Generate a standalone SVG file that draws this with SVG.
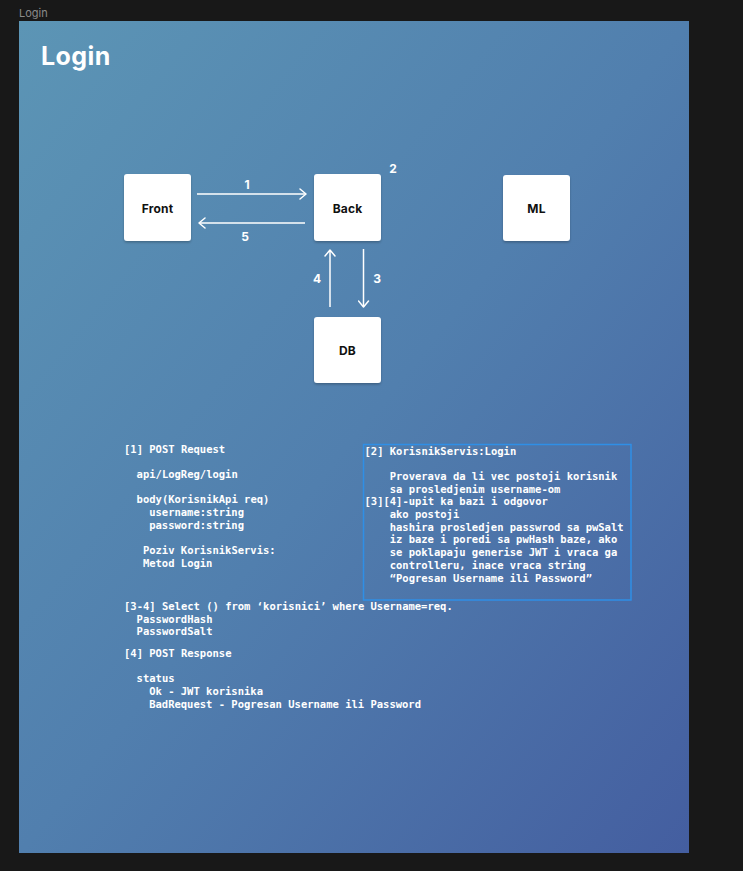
<svg xmlns="http://www.w3.org/2000/svg" width="743" height="871" viewBox="0 0 743 871">
  <defs>
    <linearGradient id="bg" x1="0" y1="0" x2="1" y2="1">
      <stop offset="0" stop-color="#5c95b5"/>
      <stop offset="0.5" stop-color="#517fae"/>
      <stop offset="1" stop-color="#445ea0"/>
    </linearGradient>
    <filter id="sh" x="-20%" y="-20%" width="140%" height="150%">
      <feDropShadow dx="0" dy="1.5" stdDeviation="1.2" flood-color="#000" flood-opacity="0.25"/>
    </filter>
    <marker id="ah" viewBox="0 0 10 12" refX="9" refY="6" markerWidth="10" markerHeight="12" markerUnits="userSpaceOnUse" orient="auto">
      <path d="M3,1 L9,6 L3,11" fill="none" stroke="#fff" stroke-width="1.5" stroke-linecap="round" stroke-linejoin="round"/>
    </marker>
    <style>
      .node rect { fill: #ffffff; filter: url(#sh); }
      .node text { font-family: Inter, "Noto Sans", sans-serif; font-weight: 700; font-size: 12px; letter-spacing: 0.2px; fill: #111; text-anchor: middle; }
      .conn line { stroke: #ffffff; stroke-width: 1.5; marker-end: url(#ah); }
      .lbl { font-family: Inter, "Noto Sans", sans-serif; font-weight: 700; font-size: 12px; fill: #fff; text-anchor: middle; }
      .mono { font-family: "DejaVu Sans Mono", "Liberation Mono", monospace; font-weight: 700; font-size: 10.5px; fill: #fff; }
    </style>
  </defs>
  <rect x="0" y="0" width="743" height="871" fill="#181818"/>
  <text x="19" y="17" font-family="Inter, 'Noto Sans', sans-serif" font-size="11" fill="#8a8a8a">Login</text>
  <rect x="19" y="21" width="670" height="832" fill="url(#bg)"/>
  <text x="41" y="65" font-family="Inter, 'Noto Sans', sans-serif" font-weight="700" font-size="25" letter-spacing="0.4" fill="#fff">Login</text>

  <g id="node-front" class="node"><rect x="124" y="174" width="67" height="67" rx="3"/><text x="157.5" y="212.5">Front</text></g>
  <g id="node-back" class="node"><rect x="314" y="174" width="67" height="67" rx="3"/><text x="347.5" y="212.5">Back</text></g>
  <g id="node-ml" class="node"><rect x="503" y="175" width="67" height="66" rx="3"/><text x="536.5" y="212.5">ML</text></g>
  <g id="node-db" class="node"><rect x="314" y="317" width="67" height="66" rx="3"/><text x="347.5" y="355">DB</text></g>

  <g id="connectors" class="conn">
    <line x1="197" y1="194" x2="306" y2="194"/>
    <line x1="305" y1="223" x2="199" y2="223"/>
    <line x1="330" y1="307" x2="330" y2="250"/>
    <line x1="363.5" y1="249" x2="363.5" y2="307"/>
  </g>
  <g id="labels">
    <text class="lbl" x="247" y="189">1</text>
    <text class="lbl" x="245" y="241">5</text>
    <text class="lbl" x="317" y="283">4</text>
    <text class="lbl" x="377" y="283">3</text>
    <text class="lbl" x="393" y="173">2</text>
  </g>

  <g id="note-request" class="mono">
    <text x="124" y="452.5">[1] POST Request</text>
    <text x="136.6" y="477.9">api/LogReg/login</text>
    <text x="136.6" y="503.3">body(KorisnikApi req)</text>
    <text x="149.2" y="516">username:string</text>
    <text x="149.2" y="528.7">password:string</text>
    <text x="142.9" y="554.1">Poziv KorisnikServis:</text>
    <text x="142.9" y="566.8">Metod Login</text>
  </g>

  <g id="note-servis">
    <rect x="363.5" y="444.5" width="267.5" height="155.5" fill="none" stroke="#2f8fe6" stroke-width="1.5"/>
    <g class="mono">
      <text x="364.5" y="454.5">[2] KorisnikServis:Login</text>
      <text x="389.7" y="479.9">Proverava da li vec postoji korisnik</text>
      <text x="389.7" y="492.6">sa prosledjenim username-om</text>
      <text x="364.5" y="505.3">[3][4]-upit ka bazi i odgovor</text>
      <text x="389.7" y="518">ako postoji</text>
      <text x="389.7" y="530.7">hashira prosledjen passwrod sa pwSalt</text>
      <text x="389.7" y="543.4">iz baze i poredi sa pwHash baze, ako</text>
      <text x="389.7" y="556.1">se poklapaju generise JWT i vraca ga</text>
      <text x="389.7" y="568.8">controlleru, inace vraca string</text>
      <text x="389.7" y="581.5">“Pogresan Username ili Password”</text>
    </g>
  </g>

  <g id="note-db" class="mono">
    <text x="124" y="610">[3-4] Select () from ‘korisnici’ where Username=req.</text>
    <text x="136.6" y="622.7">PasswordHash</text>
    <text x="136.6" y="635.4">PasswordSalt</text>
  </g>

  <g id="note-response" class="mono">
    <text x="124" y="657">[4] POST Response</text>
    <text x="136.6" y="682.4">status</text>
    <text x="149.2" y="695.1">Ok - JWT korisnika</text>
    <text x="149.2" y="707.8">BadRequest - Pogresan Username ili Password</text>
  </g>
</svg>
